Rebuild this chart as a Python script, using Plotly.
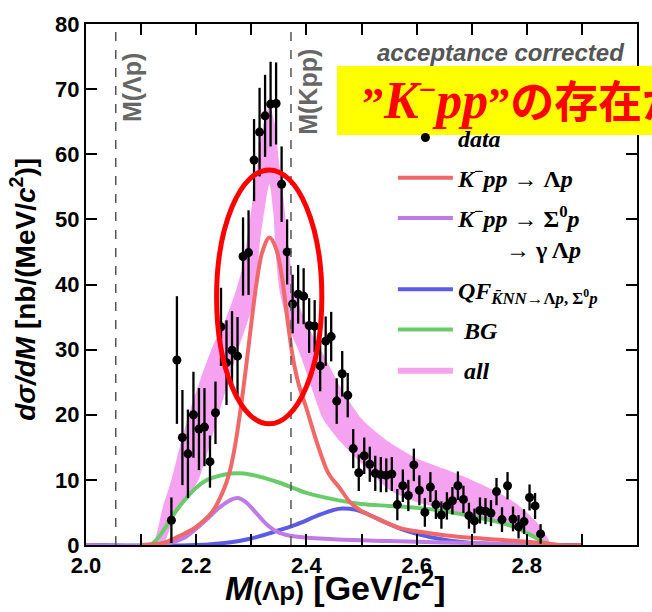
import plotly.graph_objects as go

# ---- measured spectrum (10 MeV bins) ----
mass = [2.155, 2.165, 2.175, 2.185, 2.195, 2.205, 2.215, 2.225, 2.235, 2.245,
        2.255, 2.265, 2.275, 2.285, 2.295, 2.305, 2.315, 2.325, 2.335, 2.345,
        2.355, 2.365, 2.375, 2.385, 2.395, 2.405, 2.415, 2.425, 2.435, 2.445,
        2.455, 2.465, 2.475, 2.485, 2.495, 2.505, 2.515, 2.525, 2.535, 2.545,
        2.555, 2.565, 2.575, 2.585, 2.595, 2.605, 2.615, 2.625, 2.635, 2.645,
        2.655, 2.665, 2.675, 2.685, 2.695, 2.705, 2.715, 2.725, 2.735, 2.745,
        2.755, 2.765, 2.775, 2.785, 2.795, 2.805, 2.815, 2.825]
xsec = [3.8, 28.4, 16.5, 14.0, 20.0, 17.8, 18.1, 12.8, 20.3, 33.5,
        28.0, 29.9, 29.0, 44.3, 44.9, 59.1, 63.4, 65.9, 67.7, 67.8,
        55.4, 45.0, 37.0, 38.5, 38.2, 33.7, 33.6, 27.5, 31.3, 32.0,
        22.1, 26.3, 23.0, 14.8, 11.1, 13.7, 12.4, 11.0, 10.8, 10.7,
        10.9, 6.2, 9.1, 7.6, 12.3, 8.4, 5.0, 8.9, 6.2, 4.6,
        6.0, 6.8, 9.1, 7.0, 4.5, 3.7, 5.3, 5.2, 4.9, 8.2,
        3.9, 9.1, 4.0, 2.8, 3.6, 7.3, 6.0, 1.7]
xsec_err = [3.5, 9.8, 7.3, 6.8, 6.6, 6.3, 6.0, 4.0, 4.8, 6.0,
            6.5, 6.0, 6.0, 6.0, 6.5, 6.3, 6.8, 6.3, 6.5, 6.3,
            5.8, 5.0, 4.5, 4.5, 4.3, 4.2, 4.0, 3.9, 3.8, 3.8,
            3.5, 3.5, 3.4, 3.0, 2.8, 2.8, 2.7, 2.7, 2.7, 2.6,
            2.6, 2.4, 2.5, 2.4, 2.5, 2.3, 2.2, 2.3, 2.2, 2.1,
            2.1, 2.1, 2.2, 2.1, 2.0, 1.9, 2.0, 2.0, 2.0, 2.1,
            1.9, 2.1, 1.9, 1.8, 1.9, 2.0, 2.0, 1.5]

# ---- fit components ----
kpp_lp_m = [2.10, 2.14, 2.16, 2.18, 2.20, 2.23, 2.25, 2.26, 2.27, 2.28, 2.29, 2.30,
            2.31, 2.32, 2.333, 2.345, 2.355, 2.365, 2.375, 2.385, 2.40, 2.42, 2.44,
            2.46, 2.48, 2.50, 2.53, 2.57, 2.60, 2.65, 2.70, 2.75, 2.80, 2.84, 2.86, 2.90]
kpp_lp_v = [0.0, 0.3, 1.0, 1.8, 2.8, 5.2, 8.5, 11.0, 15.0, 20.5, 27.0, 34.0,
            40.5, 45.0, 47.2, 45.5, 41.5, 35.0, 29.0, 25.0, 21.0, 15.5, 11.0,
            8.8, 6.5, 5.2, 4.0, 2.6, 2.1, 1.5, 1.1, 0.8, 0.5, 0.2, 0.0, 0.0]

kpp_sp_m = [2.00, 2.14, 2.16, 2.18, 2.20, 2.22, 2.24, 2.26, 2.275, 2.29, 2.31, 2.33,
            2.35, 2.38, 2.45, 2.55, 2.70, 2.85]
kpp_sp_v = [0.0, 0.0, 0.5, 1.2, 2.5, 4.0, 5.6, 6.8, 7.2, 6.6, 4.8, 3.0,
            1.9, 1.3, 0.9, 0.6, 0.3, 0.0]

qf_m = [2.00, 2.20, 2.26, 2.30, 2.34, 2.38, 2.42, 2.45, 2.465, 2.49, 2.51, 2.54,
        2.57, 2.60, 2.65, 2.70, 2.75, 2.80, 2.90]
qf_v = [0.0, 0.0, 0.4, 1.0, 2.0, 3.1, 4.5, 5.4, 5.6, 5.4, 4.8, 3.6,
        2.5, 1.7, 0.8, 0.3, 0.1, 0.0, 0.0]

bg_m = [2.00, 2.115, 2.13, 2.145, 2.16, 2.18, 2.20, 2.22, 2.25, 2.275, 2.30, 2.35,
        2.40, 2.45, 2.50, 2.55, 2.60, 2.65, 2.70, 2.75, 2.78, 2.81, 2.835, 2.85, 2.90]
bg_v = [0.0, 0.0, 1.0, 2.8, 4.8, 7.0, 8.8, 10.0, 10.8, 11.0, 10.8, 9.6,
        8.0, 7.0, 6.3, 6.0, 5.7, 5.2, 4.4, 3.5, 2.7, 1.4, 0.3, 0.0, 0.0]

# total fit uncertainty band
all_hi_m = [2.125, 2.132, 2.14, 2.155, 2.17, 2.19, 2.21, 2.23, 2.25, 2.27, 2.285,
            2.30, 2.312, 2.322, 2.333, 2.343, 2.35, 2.358, 2.37, 2.38, 2.40, 2.43,
            2.46, 2.50, 2.55, 2.60, 2.65, 2.70, 2.75, 2.78, 2.80, 2.82, 2.835, 2.845]
all_hi_v = [0.0, 3.0, 6.0, 10.0, 15.0, 21.0, 26.0, 30.5, 34.0, 38.5, 43.0,
            51.5, 59.0, 64.5, 67.5, 64.5, 59.0, 53.5, 44.0, 38.5, 34.0, 29.4,
            24.5, 19.4, 15.8, 13.3, 11.7, 10.0, 8.0, 6.4, 5.0, 3.3, 1.5, 0.0]
all_lo_m = [2.125, 2.14, 2.15, 2.162, 2.18, 2.203, 2.22, 2.24, 2.26, 2.28, 2.298,
            2.307, 2.315, 2.325, 2.333, 2.34, 2.345, 2.352, 2.37, 2.388, 2.41, 2.43,
            2.46, 2.50, 2.55, 2.60, 2.65, 2.70, 2.75, 2.78, 2.80, 2.82, 2.835, 2.845]
all_lo_v = [0.0, 0.0, 2.0, 4.8, 7.0, 9.8, 14.0, 19.9, 25.5, 31.0, 35.5,
            39.0, 46.0, 52.0, 55.5, 51.0, 44.0, 38.7, 33.0, 29.4, 24.0, 19.4,
            16.0, 12.5, 8.5, 6.6, 5.5, 4.5, 3.3, 2.3, 1.6, 0.7, 0.2, 0.0]

# thresholds
m_lambda_p = 2.054
m_kpp = 2.372

x_ticks = [2.0, 2.1, 2.2, 2.3, 2.4, 2.5, 2.6, 2.7, 2.8, 2.9, 3.0]
x_ticktext = ["2.0", "", "2.2", "", "2.4", "", "2.6", "", "2.8", "", "3.0"]
y_ticks = [0, 10, 20, 30, 40, 50, 60, 70, 80]

SANS = "Liberation Sans, Arial, sans-serif"
SERIF = "Liberation Serif, Times New Roman, serif"

fig = go.Figure()

# pink band: upper edge followed by reversed lower edge
fig.add_trace(go.Scatter(
    x=all_hi_m + all_lo_m[::-1], y=all_hi_v + all_lo_v[::-1],
    fill="toself", fillcolor="#f5a3f0", mode="lines",
    line=dict(width=0, shape="spline", smoothing=0.6),
    name="\u00a0<i>all</i>", legendgroup="all", legendrank=6, hoverinfo="skip"))

fig.add_trace(go.Scatter(
    x=bg_m, y=bg_v, mode="lines", line=dict(color="#6acb6a", width=4, shape="spline"),
    name="\u00a0<i>BG</i>", legendgroup="bg", legendrank=5))
fig.add_trace(go.Scatter(
    x=qf_m, y=qf_v, mode="lines", line=dict(color="#5b5be6", width=4, shape="spline"),
    name="<i>QF</i><sub><i>K\u0304NN</i>→Λ<i>p</i>, Σ<sup>0</sup><i>p</i></sub>",
    legendgroup="qf", legendrank=4))
fig.add_trace(go.Scatter(
    x=kpp_sp_m, y=kpp_sp_v, mode="lines", line=dict(color="#c07ae6", width=4, shape="spline"),
    name="<i>K</i><sup>−</sup><i>pp</i> → Σ<sup>0</sup><i>p</i><br>\u00a0\u00a0\u00a0\u00a0\u00a0\u00a0\u00a0\u00a0→ γ Λ<i>p</i>",
    legendgroup="sp", legendrank=3))
fig.add_trace(go.Scatter(
    x=kpp_lp_m, y=kpp_lp_v, mode="lines", line=dict(color="#f06868", width=4, shape="spline"),
    name="<i>K</i><sup>−</sup><i>pp</i> → Λ<i>p</i>", legendgroup="lp", legendrank=2))

fig.add_trace(go.Scatter(
    x=mass, y=xsec, mode="markers",
    marker=dict(color="black", size=9),
    error_y=dict(type="data", array=xsec_err, color="black", thickness=2.3, width=0),
    name="<i>data</i>", legendgroup="data", legendrank=1))

shapes = [
    dict(type="line", xref="x", yref="paper", x0=m_lambda_p, x1=m_lambda_p, y0=0, y1=1,
         line=dict(color="#555555", width=1.5, dash="dash"), layer="above"),
    dict(type="line", xref="x", yref="paper", x0=m_kpp, x1=m_kpp, y0=0, y1=1,
         line=dict(color="#555555", width=1.5, dash="dash"), layer="above"),
    dict(type="circle", xref="x", yref="y", x0=2.237, x1=2.428, y0=18.6, y1=57.6,
         line=dict(color="#ff0000", width=5), layer="above"),
    dict(type="rect", xref="paper", yref="paper", x0=0.4555, x1=1.06, y0=0.787, y1=0.9195,
         fillcolor="#ffff00", line=dict(width=0), layer="above"),
]

annotations = [
    dict(text="<b><i>acceptance corrected</i></b>", xref="paper", yref="paper",
         x=0.982, y=0.945, xanchor="right", yanchor="middle", showarrow=False,
         font=dict(family=SANS, size=24, color="#555555")),
    dict(text="<b>M(Λp)</b>", xref="x", yref="y", x=2.084, y=70.2, textangle=-90,
         showarrow=False, font=dict(family=SANS, size=25, color="#666666")),
    dict(text="<b>M(Kpp)</b>", xref="x", yref="y", x=2.403, y=69.6, textangle=-90,
         showarrow=False, font=dict(family=SANS, size=25, color="#666666")),
    dict(text="<b>\u201d<span style='font-size:52px'><i>K</i></span><sup>−</sup>"
              "<span style='font-size:52px'><i>pp</i></span>\u201dの存在が示唆</b>",
         xref="paper", yref="paper", x=0.4973, y=0.853, xanchor="left", yanchor="middle",
         showarrow=False,
         font=dict(family="Liberation Serif, Noto Sans CJK JP", size=44, color="#ff0000")),
    dict(text="<b><i>M</i><span style='font-size:26px'>(Λp)</span> [GeV/<i>c</i><sup>2</sup>]</b>",
         xref="paper", yref="paper", x=0.452, y=-0.078, xanchor="center", yanchor="middle",
         showarrow=False, font=dict(family=SANS, size=34, color="black")),
    dict(text="<b><i>dσ/dM</i> [nb/(MeV/<i>c</i><sup>2</sup>)]</b>",
         xref="paper", yref="paper", x=-0.1143, y=0.49, textangle=-90,
         xanchor="center", yanchor="middle", showarrow=False,
         font=dict(family=SANS, size=28, color="black")),
]

axis_common = dict(showline=True, linewidth=2, linecolor="black", mirror="ticks",
                   ticks="inside", ticklen=11, tickwidth=2, tickcolor="black",
                   showgrid=False, zeroline=False,
                   tickfont=dict(family=SANS, size=22, color="black", weight="bold"))

fig.update_layout(
    width=652, height=612,
    margin=dict(l=86, r=15, t=15, b=67),
    paper_bgcolor="white", plot_bgcolor="white",
    xaxis=dict(range=[2.0, 3.0], tickvals=x_ticks, ticktext=x_ticktext, **axis_common),
    yaxis=dict(range=[0, 80], tickvals=y_ticks, **axis_common),
    shapes=shapes, annotations=annotations,
    showlegend=True,
    legend=dict(x=0.557, y=0.8245, xanchor="left", yanchor="top",
                bgcolor="rgba(0,0,0,0)", traceorder="grouped", tracegroupgap=6,
                valign="top", itemwidth=55,
                font=dict(family=SERIF, size=24, color="black", weight="bold")),
)

fig.write_html("out.html")
